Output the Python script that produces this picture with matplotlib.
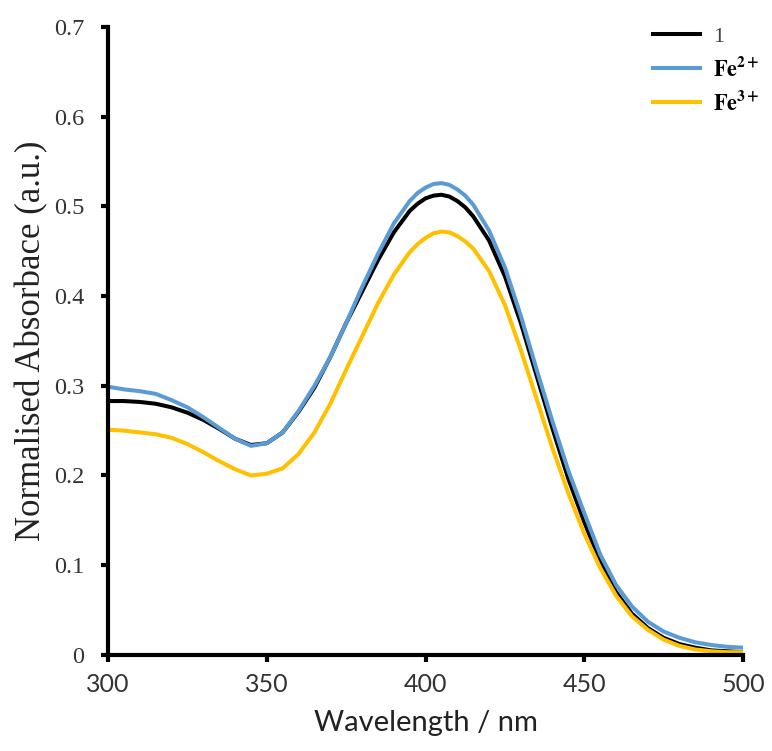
import numpy as np
import matplotlib
matplotlib.use("Agg")
import matplotlib.pyplot as plt

# wavelength grid (nm) and curves
wavelength = [300, 305, 310, 315, 320, 325, 330, 335, 340, 345, 350, 355, 360, 365, 370,
              375, 380, 385, 390, 395, 397.5, 400, 402.5, 405, 407.5, 410, 412.5, 415, 420,
              425, 430, 435, 440, 445, 450, 455, 460, 465, 470, 475, 480, 485, 490, 495, 500]

abs_1 = [0.283, 0.283, 0.282, 0.280, 0.276, 0.270, 0.262, 0.252, 0.241, 0.234, 0.236, 0.248,
         0.271, 0.298, 0.332, 0.370, 0.405, 0.440, 0.471, 0.495, 0.503, 0.509, 0.512, 0.513,
         0.511, 0.506, 0.499, 0.489, 0.462, 0.422, 0.370, 0.311, 0.252, 0.196, 0.148, 0.104,
         0.070, 0.046, 0.030, 0.019, 0.012, 0.008, 0.005, 0.004, 0.003]

abs_fe2 = [0.299, 0.296, 0.294, 0.291, 0.284, 0.276, 0.265, 0.253, 0.241, 0.233, 0.236, 0.248,
           0.272, 0.300, 0.332, 0.370, 0.410, 0.447, 0.481, 0.506, 0.515, 0.521, 0.525, 0.526,
           0.524, 0.519, 0.512, 0.502, 0.473, 0.432, 0.378, 0.318, 0.260, 0.205, 0.158, 0.112,
           0.078, 0.054, 0.037, 0.026, 0.019, 0.014, 0.011, 0.009, 0.008]

abs_fe3 = [0.251, 0.250, 0.248, 0.246, 0.242, 0.235, 0.226, 0.216, 0.207, 0.200, 0.202, 0.208,
           0.224, 0.248, 0.280, 0.318, 0.355, 0.392, 0.424, 0.449, 0.458, 0.465, 0.470, 0.472,
           0.471, 0.467, 0.461, 0.453, 0.428, 0.390, 0.340, 0.285, 0.230, 0.180, 0.135, 0.097,
           0.066, 0.043, 0.028, 0.017, 0.010, 0.006, 0.004, 0.003, 0.003]

labels = ["1", r"$\mathbf{Fe^{2+}}$", r"$\mathbf{Fe^{3+}}$"]
colors = ["#000000", "#5B9BD5", "#FFC000"]

plt.rcParams["mathtext.fontset"] = "stix"

fig = plt.figure(figsize=(7.72, 7.51), dpi=100)
ax = fig.add_axes([0.140, 0.128, 0.8225, 0.836])

for y, lab, c in zip([abs_1, abs_fe2, abs_fe3], labels, colors):
    ax.plot(wavelength, y, color=c, lw=2.9, label=lab, solid_joinstyle="round")

ax.set_xlim(300, 500)
ax.set_ylim(0, 0.7)
ax.set_xticks([300, 350, 400, 450, 500])
ax.set_yticks(np.arange(0, 0.71, 0.1))
ax.set_yticklabels(["0", "0.1", "0.2", "0.3", "0.4", "0.5", "0.6", "0.7"],
                   family="Liberation Serif", fontsize=17.5, color="#333333")
ax.set_xticklabels(["300", "350", "400", "450", "500"],
                   family="Lato", fontsize=18, color="#333333")

for s in ["top", "right"]:
    ax.spines[s].set_visible(False)
for s in ["left", "bottom"]:
    ax.spines[s].set_linewidth(3)
ax.tick_params(direction="out", length=5, width=3)
ax.tick_params(axis="y", pad=12)
ax.tick_params(axis="x", pad=8)

ax.set_xlabel("Wavelength / nm", family="Lato", fontsize=21, color="#222222", labelpad=10)
ax.set_ylabel("Normalised Absorbace (a.u.)", family="Liberation Serif", fontsize=25,
              color="#222222", labelpad=4)

leg = ax.legend(loc="upper left", bbox_to_anchor=(653 / 772, 1 - 26 / 751),
                bbox_transform=fig.transFigure, frameon=False, borderpad=0, borderaxespad=0,
                prop={"family": "Liberation Serif", "size": 16},
                handlelength=2.1, handletextpad=0.6, labelspacing=0.45)
leg.get_texts()[0].set_color("#444444")

fig.savefig("out.png", dpi=100)
